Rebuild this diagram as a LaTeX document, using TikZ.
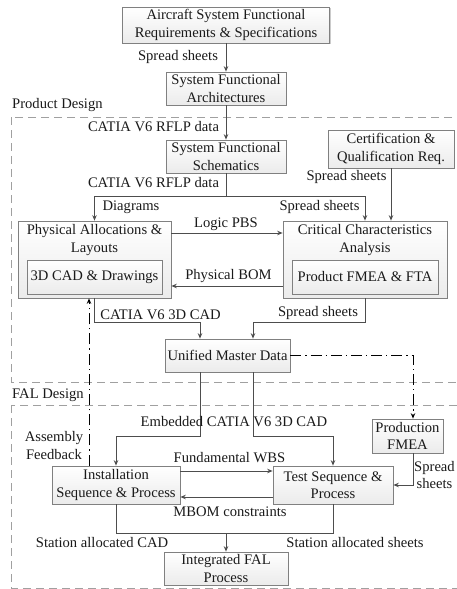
\documentclass[tikz,border=0pt]{standalone}
\usepackage{fontspec}
\setmainfont{Liberation Serif}
\usetikzlibrary{arrows.meta,shadows,calc}
\definecolor{boxdraw}{HTML}{808080}
\definecolor{boxfill}{HTML}{EBEBEB}
\definecolor{linec}{HTML}{4D4D4D}
\definecolor{txtc}{HTML}{1A1A1A}
\definecolor{regc}{HTML}{A0A0A0}
\begin{document}
\begin{tikzpicture}[x=1pt,y=-1pt,
 font=\fontsize{14.6}{17.5}\selectfont,
 box/.style={draw=boxdraw, line width=0.7pt, top color=white, bottom color=boxfill,
   drop shadow={shadow xshift=1.2pt, shadow yshift=-1.2pt, fill=black!40, opacity=0.5},
   align=center, inner sep=0pt, text=txtc},
 lbl/.style={inner sep=0pt, text=txtc, align=center},
 arr/.style={draw=linec, line width=0.9pt, -{Stealth[length=5.5pt,width=4.5pt]}},
 ln/.style={draw=linec, line width=0.9pt},
 dd/.style={draw=black, line width=0.9pt, dash pattern=on 11pt off 4pt on 1.2pt off 4pt, -{Stealth[length=5.5pt,width=4.5pt]}},
 region/.style={draw=regc, line width=0.8pt, dash pattern=on 8pt off 5pt}]
\useasboundingbox (0,0) rectangle (456,589);
\fill[white] (0,0) rectangle (456,589);
% regions
\draw[region] (11,117) rectangle (480,382);
\draw[region] (11,405) rectangle (480,588);
% boxes
\node[box, minimum width=207pt, minimum height=36pt] (req) at (226,25) {Aircraft System Functional\\Requirements \& Specifications};
\node[box, minimum width=120pt, minimum height=33pt] (arch) at (226,88.5) {System Functional\\Architectures};
\node[box, minimum width=120pt, minimum height=33pt] (schem) at (226,156.5) {System Functional\\Schematics};
\node[box, minimum width=126pt, minimum height=38pt] (cert) at (391,149) {Certification \&\\Qualification Req.};
\node[box, minimum width=153pt, minimum height=77pt] (phys) at (94.5,259.5) {};
\node[lbl] (physt) at (94.5,240) {Physical Allocations \&\\Layouts};
\node[box, minimum width=135pt, minimum height=34pt] (cad) at (94.5,277) {3D CAD \& Drawings};
\node[box, minimum width=164pt, minimum height=77pt] (crit) at (365,259.5) {};
\node[lbl] (critt) at (365,240) {Critical Characteristics\\Analysis};
\node[box, minimum width=146pt, minimum height=34pt] (fmea) at (365,277) {Product FMEA \& FTA};
\node[box, minimum width=125pt, minimum height=33pt] (umd) at (227.5,355.5) {Unified Master Data};
\node[box, minimum width=71pt, minimum height=34pt] (pfmea) at (407.5,436) {Production\\FMEA};
\node[box, minimum width=128pt, minimum height=38pt] (inst) at (116,485) {Installation\\Sequence \& Process};
\node[box, minimum width=120pt, minimum height=38pt] (test) at (333,485) {Test Sequence \&\\Process};
\node[box, minimum width=124pt, minimum height=33pt] (fal) at (226,568.5) {Integrated FAL\\Process};
% helper coordinates
\coordinate (bus) at (226,196);
\coordinate (yLP) at (0,233);
\coordinate (yPB) at (0,286);
\coordinate (yJ) at (0,322);
\coordinate (xA) at (200,0);
\coordinate (xB) at (253,0);
\coordinate (yE) at (0,436);
\coordinate (xP) at (413,0);
\coordinate (xF) at (89,0);
\coordinate (yW) at (0,471);
\coordinate (yM) at (0,497);
\coordinate (yS) at (0,533);
% connectors
\draw[arr] (req.south) -- (arch.north);
\draw[arr] (arch.south) -- (schem.north);
\draw[ln] (schem.south) -- (bus);
\draw[arr] (bus) -| (phys.north);
\draw[arr] (bus) -| (crit.north);
\draw[arr] (cert.south) -- (cert.south |- crit.north);
\draw[arr] (phys.east |- yLP) -- (crit.west |- yLP);
\draw[arr] (crit.west |- yPB) -- (phys.east |- yPB);
\draw[arr] (phys.south) -- (phys.south |- yJ) -| (umd.north -| xA);
\draw[arr] (crit.south) -- (crit.south |- yJ) -| (umd.north -| xB);
\draw[arr] (umd.south -| xA) -- (xA |- yE) -| (inst.north);
\draw[arr] (umd.south -| xB) -- (xB |- yE) -| (test.north);
\draw[dd] (umd.east) -| (pfmea.north -| xP);
\draw[dd] (inst.north -| xF) -- (phys.south -| xF);
\draw[arr] (inst.east |- yW) -- (test.west |- yW);
\draw[arr] (test.west |- yM) -- (inst.east |- yM);
\draw[arr] (pfmea.south -| xP) |- (test.east);
\draw[ln] (inst.south) |- (yS -| test.south) -- (test.south);
\draw[arr] (fal.north |- yS) -- (fal.north);
% labels
\node[lbl] (l1) at (178,57) {Spread sheets};
\node[lbl, anchor=west] (lpd) at (12,105) {Product Design};
\node[lbl] (l2) at (153.5,127) {CATIA V6 RFLP data};
\node[lbl] (l3) at (153.5,183) {CATIA V6 RFLP data};
\node[lbl] (l4) at (346.5,177) {Spread sheets};
\node[lbl] (l5) at (131,207) {Diagrams};
\node[lbl] (l6) at (319.5,207) {Spread sheets};
\node[lbl] (l7) at (226,224) {Logic PBS};
\node[lbl] (l8) at (228.5,276) {Physical BOM};
\node[lbl] (l9) at (160.5,315) {CATIA V6 3D CAD};
\node[lbl] (l10) at (318,313) {Spread sheets};
\node[lbl, anchor=west] (lfd) at (12,395) {FAL Design};
\node[lbl] (l11) at (234,422) {Embedded CATIA V6 3D CAD};
\node[lbl] (l12) at (54,445.5) {Assembly\\Feedback};
\node[lbl] (l13) at (229.5,458) {Fundamental WBS};
\node[lbl] (l14) at (230,512) {MBOM constraints};
\node[lbl] (l15) at (434.5,475) {Spread\\sheets};
\node[lbl] (l16) at (102,542) {Station allocated CAD};
\node[lbl] (l17) at (355,542) {Station allocated sheets};
\end{tikzpicture}
\end{document}
